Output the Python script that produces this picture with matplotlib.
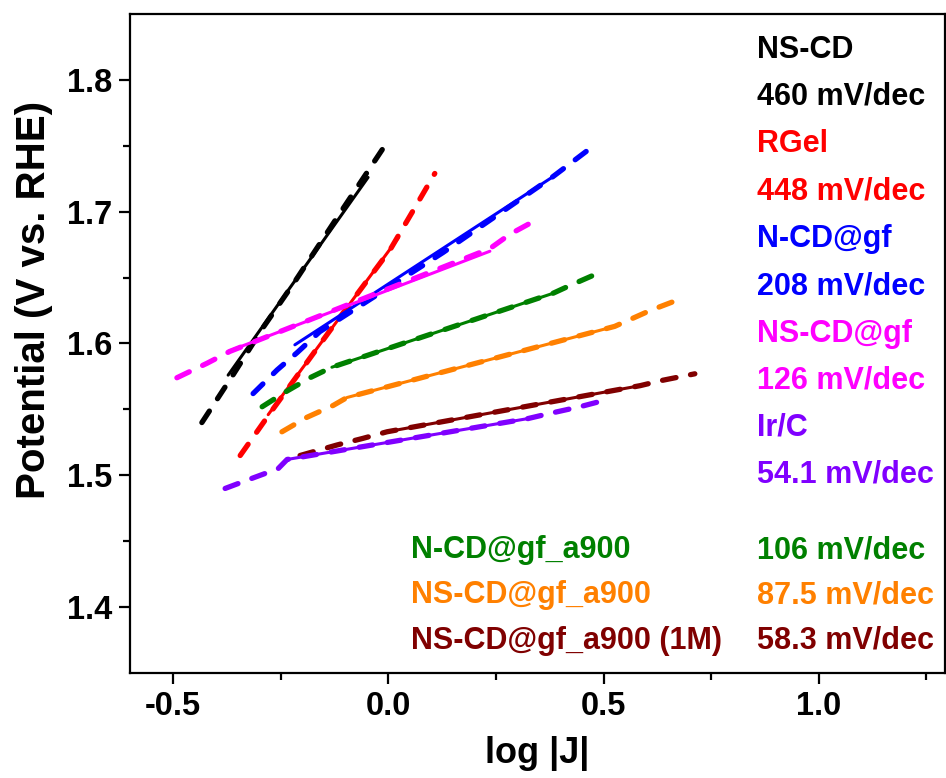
import matplotlib
matplotlib.use("Agg")
from matplotlib import pyplot as plt

plt.rcParams['font.family'] = ['Liberation Sans', 'DejaVu Sans']
plt.rcParams['font.weight'] = 'bold'
plt.rcParams['axes.unicode_minus'] = False

names = ['NS-CD', 'RGel', 'N-CD@gf', 'NS-CD@gf', 'N-CD@gf_a900',
         'NS-CD@gf_a900', 'NS-CD@gf_a900 (1M)', 'Ir/C']
slopes = ['460 mV/dec', '448 mV/dec', '208 mV/dec', '126 mV/dec', '106 mV/dec',
          '87.5 mV/dec', '58.3 mV/dec', '54.1 mV/dec']
colors = ['#000000', '#ff0000', '#0000ff', '#ff00ff', '#008000',
          '#ff8000', '#800000', '#8000ff']

# tafel data (dashed)
tafel_x = [
    [-0.433, -0.361, -0.291, -0.217, -0.112, 0.004],
    [-0.344, -0.303, -0.275, -0.135, 0.004, 0.067, 0.108],
    [-0.314, -0.258, -0.212, -0.159, 0.127, 0.380, 0.485],
    [-0.491, -0.421, -0.368, 0.236, 0.283, 0.345],
    [-0.293, -0.240, -0.182, -0.131, 0.382, 0.422, 0.478],
    [-0.247, -0.189, -0.128, -0.096, 0.526, 0.608, 0.680],
    [-0.205, -0.119, -0.059, -0.003, 0.585, 0.636, 0.712],
    [-0.379, -0.314, -0.256, -0.235, 0.324, 0.376, 0.445, 0.515],
]
tafel_y = [
    [1.540, 1.576, 1.612, 1.647, 1.699, 1.756],
    [1.515, 1.534, 1.547, 1.610, 1.671, 1.706, 1.729],
    [1.562, 1.580, 1.593, 1.609, 1.669, 1.726, 1.752],
    [1.574, 1.585, 1.594, 1.672, 1.683, 1.694],
    [1.552, 1.563, 1.574, 1.582, 1.638, 1.644, 1.652],
    [1.533, 1.544, 1.553, 1.559, 1.613, 1.625, 1.634],
    [1.515, 1.523, 1.528, 1.533, 1.568, 1.572, 1.577],
    [1.490, 1.498, 1.505, 1.512, 1.543, 1.547, 1.552, 1.558],
]

# linear fits (solid)
fit_x = [[-0.372, -0.047], [-0.279, 0.023], [-0.217, 0.380], [-0.372, 0.236],
         [-0.131, 0.382], [-0.096, 0.526], [-0.003, 0.585], [-0.235, 0.324]]
fit_y = [[1.576, 1.726], [1.546, 1.680], [1.599, 1.726], [1.594, 1.670],
         [1.582, 1.638], [1.559, 1.613], [1.533, 1.568], [1.512, 1.543]]

fig = plt.figure(figsize=(9.46, 7.78), dpi=100)
ax = fig.add_axes([0.1374, 0.135, 0.8615, 0.847])

for i in range(len(names)):
    ax.plot(fit_x[i], fit_y[i], color=colors[i], lw=2.2, solid_capstyle='round')
    ax.plot(tafel_x[i], tafel_y[i], color=colors[i], lw=3.8, ls=(0, (2.6, 2.8)),
            dash_capstyle='round', dash_joinstyle='round')

ax.set_xlim(-0.6, 1.293)
ax.set_ylim(1.35, 1.85)
ax.set_xticks([-0.5, 0.0, 0.5, 1.0])
ax.set_xticks([-0.25, 0.25, 0.75, 1.25], minor=True)
ax.set_yticks([1.4, 1.5, 1.6, 1.7, 1.8])
ax.set_yticks([1.45, 1.55, 1.65, 1.75], minor=True)
ax.tick_params(which='major', direction='out', length=8, width=1.6,
               labelsize=23.5, pad=5, top=False, right=False)
ax.tick_params(which='minor', direction='out', length=5, width=1.6,
               top=False, right=False)
for s in ax.spines.values():
    s.set_linewidth(1.6)

ax.set_xlabel('log |J|', fontsize=26, fontweight='bold', labelpad=10)
ax.set_ylabel('Potential (V vs. RHE)', fontsize=29, fontweight='bold')
ax.yaxis.set_label_coords(-0.094, 0.566)

# right column annotations
top_y = [0.933, 0.862, 0.790, 0.718, 0.647, 0.575, 0.503, 0.432, 0.360, 0.289]
k = 0
for i in [0, 1, 2, 3, 7]:
    ax.text(0.769, top_y[k], names[i], color=colors[i], fontsize=22,
            fontweight='bold', transform=ax.transAxes, va='baseline')
    ax.text(0.769, top_y[k + 1], slopes[i], color=colors[i], fontsize=22,
            fontweight='bold', transform=ax.transAxes, va='baseline')
    k += 2

bot_y = [0.174, 0.106, 0.037]
for j, i in enumerate([4, 5, 6]):
    ax.text(0.345, bot_y[j], names[i], color=colors[i], fontsize=22,
            fontweight='bold', transform=ax.transAxes, va='baseline')
    ax.text(0.769, bot_y[j], slopes[i], color=colors[i], fontsize=22,
            fontweight='bold', transform=ax.transAxes, va='baseline')

fig.savefig('out.png', dpi=100)
